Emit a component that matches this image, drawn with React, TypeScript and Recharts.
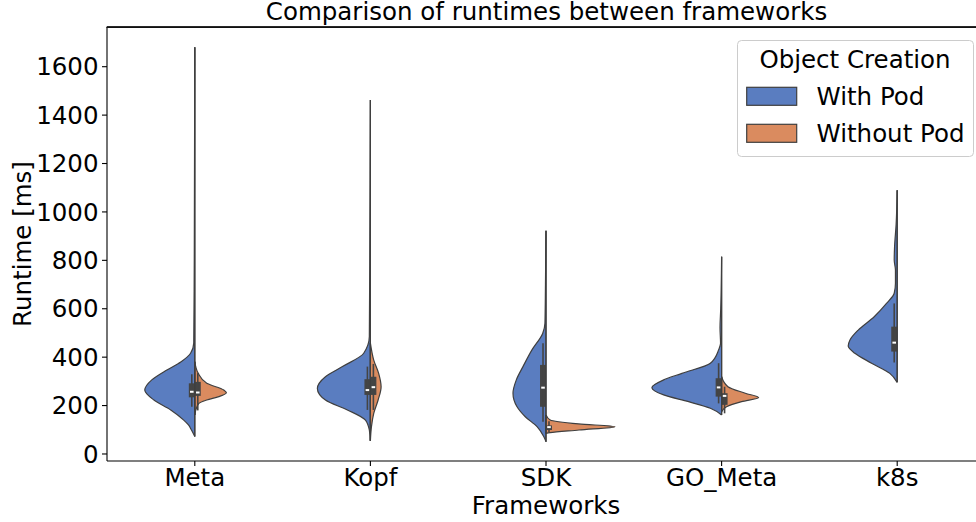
import React from "react";
import { ComposedChart, Area, Line, XAxis, YAxis, ReferenceLine } from "recharts";

const FONT = "DejaVu Sans";
const INK = "#3f3f3f";

const frameworks = ["Meta", "Kopf", "SDK", "GO_Meta", "k8s"];
const hues = ["With Pod", "Without Pod"];
const hueColors = ["#5a7dc0", "#da8b5f"];
const yTicks = [0, 200, 400, 600, 800, 1000, 1200, 1400, 1600];
const yDomain = [-29, 1764];

// violin outlines: [runtime ms, half width as share of one category step]
const metaWithPod = [
  [72, 0], [99, 0.019], [120, 0.036], [140, 0.063], [182, 0.137], [223, 0.233],
  [264, 0.285], [306, 0.245], [347, 0.159], [380, 0.08], [416, 0.024],
  [458, 0.006], [800, 0.003], [1680, 0],
];
const metaWithoutPod = [
  [161, 0], [182, 0.006], [209, 0.023], [223, 0.068], [237, 0.137], [253, 0.18],
  [264, 0.165], [292, 0.068], [334, 0.019], [381, 0],
];
const kopfWithPod = [
  [55, 0], [99, 0.006], [140, 0.028], [182, 0.131], [223, 0.256], [271, 0.302],
  [319, 0.256], [361, 0.159], [416, 0.038], [485, 0.006], [900, 0.003], [1462, 0],
];
const kopfWithoutPod = [
  [55, 0], [113, 0.006], [168, 0.019], [223, 0.044], [278, 0.061], [333, 0.047],
  [388, 0.019], [458, 0],
];
const sdkWithPod = [
  [51, 0], [72, 0.013], [113, 0.051], [154, 0.118], [195, 0.165], [251, 0.188],
  [306, 0.169], [361, 0.131], [430, 0.08], [498, 0.019], [540, 0.006],
  [700, 0.003], [922, 0],
];
const sdkWithoutPod = [
  [85, 0], [88, 0.023], [99, 0.188], [113, 0.393], [124, 0.186], [140, 0.024], [161, 0],
];
const goMetaWithPod = [
  [161, 0], [189, 0.064], [216, 0.188], [244, 0.33], [274, 0.397], [306, 0.33],
  [333, 0.226], [375, 0.064], [430, 0.017], [457, 0.006], [520, 0.009],
  [600, 0.005], [815, 0],
];
const goMetaWithoutPod = [
  [175, 0], [195, 0.028], [216, 0.114], [233, 0.211], [251, 0.135], [278, 0.036], [319, 0],
];
const k8sWithPod = [
  [296, 0], [333, 0.042], [375, 0.146], [416, 0.241], [446, 0.279], [471, 0.269],
  [512, 0.222], [567, 0.131], [622, 0.061], [664, 0.017], [705, 0.01],
  [760, 0.01], [801, 0.017], [856, 0.015], [950, 0.006], [1090, 0],
];

const outlines = [
  [metaWithPod, kopfWithPod, sdkWithPod, goMetaWithPod, k8sWithPod],
  [metaWithoutPod, kopfWithoutPod, sdkWithoutPod, goMetaWithoutPod, null],
];

// inner box: quartiles, median and whiskers per framework
const withPodQ1 = [234, 244, 195, 237, 423];
const withPodMedian = [257, 264, 274, 275, 460];
const withPodQ3 = [292, 309, 368, 313, 526];
const withPodLow = [195, 182, 133, 209, 378];
const withPodHigh = [329, 361, 457, 375, 622];
const withoutPodQ1 = [240, 244, 99, 203];
const withoutPodMedian = [254, 276, 111, 240];
const withoutPodQ3 = [298, 319, 118, 251];
const withoutPodLow = [180, 182, 90, 168];
const withoutPodHigh = [334, 372, 135, 278];

const q1 = [withPodQ1, withoutPodQ1];
const medians = [withPodMedian, withoutPodMedian];
const q3 = [withPodQ3, withoutPodQ3];
const lows = [withPodLow, withoutPodLow];
const highs = [withPodHigh, withoutPodHigh];

const BOX = 0.034;

function buildSeries() {
  const violins: React.ReactNode[] = [];
  const boxes: React.ReactNode[] = [];
  const lines: React.ReactNode[] = [];
  hues.forEach((hue, h) => {
    const side = h === 0 ? -1 : 1;
    frameworks.forEach((fw, i) => {
      const outline = outlines[h][i];
      if (!outline) return;
      violins.push(
        <Area
          key={`v-${h}-${i}`}
          data={outline.map(([y, w]) => ({ y, x: [i, i + side * w] }))}
          dataKey="x"
          type="monotone"
          fill={hueColors[h]}
          fillOpacity={1}
          stroke={INK}
          strokeWidth={1.2}
          isAnimationActive={false}
          dot={false}
          activeDot={false}
        />
      );
      lines.push(
        <Line
          key={`c-${h}-${i}`}
          data={[
            { y: outline[0][0], x: i },
            { y: outline[outline.length - 1][0], x: i },
          ]}
          dataKey="x"
          type="linear"
          stroke={INK}
          strokeWidth={1.2}
          dot={false}
          activeDot={false}
          isAnimationActive={false}
        />
      );
      boxes.push(
        <Area
          key={`b-${h}-${i}`}
          data={[
            { y: q1[h][i], x: [i, i + side * BOX] },
            { y: q3[h][i], x: [i, i + side * BOX] },
          ]}
          dataKey="x"
          type="linear"
          fill="#444444"
          fillOpacity={1}
          stroke="none"
          isAnimationActive={false}
          dot={false}
          activeDot={false}
        />
      );
      lines.push(
        <Line
          key={`w-${h}-${i}`}
          data={[
            { y: lows[h][i], x: i + side * BOX * 0.5 },
            { y: highs[h][i], x: i + side * BOX * 0.5 },
          ]}
          dataKey="x"
          type="linear"
          stroke="#444444"
          strokeWidth={1.6}
          dot={false}
          activeDot={false}
          isAnimationActive={false}
        />
      );
      lines.push(
        <Line
          key={`m-${h}-${i}`}
          data={[
            { y: medians[h][i], x: i + side * BOX * 0.2 },
            { y: medians[h][i], x: i + side * BOX * 0.8 },
          ]}
          dataKey="x"
          type="linear"
          stroke="#ffffff"
          strokeWidth={2}
          dot={false}
          activeDot={false}
          isAnimationActive={false}
        />
      );
    });
  });
  return [...violins, ...boxes, ...lines];
}

const tickStyle = { fill: "#000", fontSize: 24.5, fontFamily: FONT };

export default function App() {
  return (
    <div
      style={{
        position: "absolute",
        left: 0,
        top: 0,
        width: 976,
        height: 522,
        overflow: "hidden",
        background: "#fff",
      }}
    >
      <ComposedChart
        width={990}
        height={522}
        layout="vertical"
        margin={{ top: 27, right: 5, bottom: 0, left: 0 }}
      >
        <XAxis
          type="number"
          domain={[-0.5, 4.5]}
          allowDataOverflow
          ticks={[0, 1, 2, 3, 4]}
          interval={0}
          tickFormatter={(v: number) => frameworks[v]}
          height={61}
          tickSize={5}
          tickMargin={3}
          tick={tickStyle}
          tickLine={{ stroke: "#000", strokeWidth: 1.1 }}
          axisLine={{ stroke: "#000", strokeWidth: 1.1 }}
          label={{
            value: "Frameworks",
            position: "insideBottom",
            offset: 8,
            fill: "#000",
            fontSize: 24.5,
            fontFamily: FONT,
          }}
        />
        <YAxis
          type="number"
          dataKey="y"
          domain={yDomain}
          allowDataOverflow
          reversed
          ticks={yTicks}
          interval={0}
          width={107}
          tickSize={5}
          tickMargin={3.5}
          tick={tickStyle}
          tickLine={{ stroke: "#000", strokeWidth: 1.1 }}
          axisLine={{ stroke: "#000", strokeWidth: 1.1 }}
          label={{
            value: "Runtime [ms]",
            angle: -90,
            position: "insideLeft",
            offset: 22,
            fill: "#000",
            fontSize: 24.5,
            fontFamily: FONT,
            style: { textAnchor: "middle" },
          }}
        />
        <ReferenceLine y={yDomain[1]} stroke="#000" strokeWidth={1.3} ifOverflow="visible" />
        {buildSeries()}
      </ComposedChart>
      <svg
        width={976}
        height={522}
        style={{ position: "absolute", left: 0, top: 0, pointerEvents: "none" }}
        fontFamily={FONT}
      >
        <path d="M106.5 27.2 H976" stroke="#111111" strokeWidth={1.6} fill="none" />
        <text x={546.5} y={20} textAnchor="middle" fontSize={24.5} fill="#000">
          Comparison of runtimes between frameworks
        </text>
        <rect
          x={737.5}
          y={40.5}
          width={236}
          height={116}
          rx={4}
          fill="#ffffff"
          fillOpacity={0.8}
          stroke="#cccccc"
          strokeWidth={1}
        />
        <text x={855} y={68.3} textAnchor="middle" fontSize={24.5} fill="#000">
          Object Creation
        </text>
        {hues.map((hue, h) => (
          <g key={hue}>
            <rect
              x={746.7}
              y={87.3 + h * 37}
              width={50}
              height={18}
              fill={hueColors[h]}
              stroke={INK}
              strokeWidth={1.2}
            />
            <text x={816.5} y={105 + h * 36.5} fontSize={24.5} fill="#000">
              {hue}
            </text>
          </g>
        ))}
      </svg>
    </div>
  );
}
